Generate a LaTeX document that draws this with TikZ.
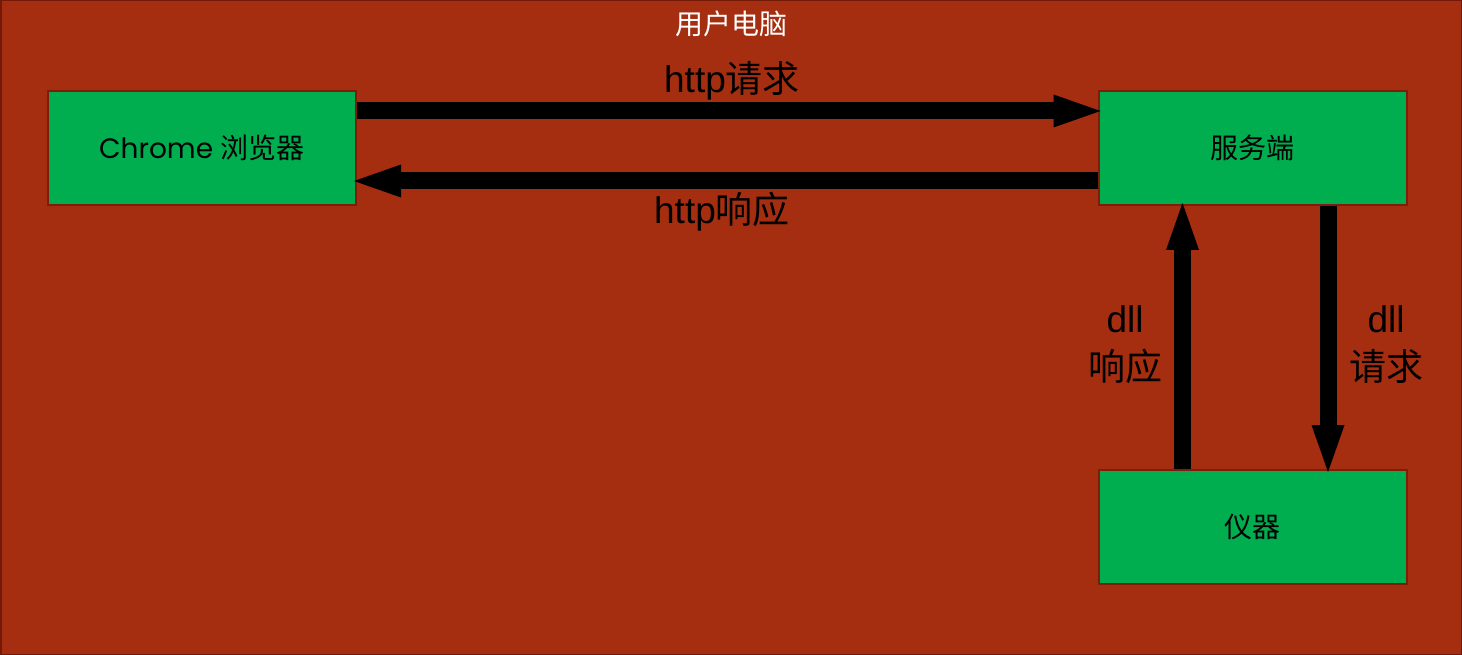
\documentclass[tikz,border=0pt]{standalone}
\usepackage{fontspec}
\setmainfont{Liberation Sans}
\newfontfamily\cjk{Noto Sans CJK SC}
\newfontfamily\geo{Poppins}
\usetikzlibrary{arrows.meta}
\definecolor{bg}{RGB}{165,46,16}
\definecolor{bgedge}{RGB}{115,25,8}
\definecolor{boxgreen}{RGB}{0,174,80}
\definecolor{boxedge}{RGB}{125,30,10}
\begin{document}
\begin{tikzpicture}[x=1pt,y=-1pt,
  box/.style={draw=boxedge, line width=2pt, fill=boxgreen, minimum width=308pt, minimum height=114pt, inner sep=0pt, font=\fontsize{28}{32}\selectfont},
  bigarrow/.style={line width=17pt, shorten >=-3pt, -{Triangle[length=47pt,width=33pt,line width=0pt]}},
  lbl/.style={font=\fontsize{37}{48}\selectfont, align=center, inner sep=0pt}]
\useasboundingbox (0,0) rectangle (1462,655);
\path[fill=bg, draw=bgedge, line width=1.5pt] (0.75,0.75) rectangle (1461.25,654.25);
\node[text=white, font=\fontsize{28}{32}\selectfont, inner sep=0pt] (title) at (731,24) {\cjk 用户电脑};
\node[box] (chrome) at (202,148) {{\geo Chrome} {\cjk 浏览器}};
\node[box] (server) at (1252.5,148) {\cjk 服务端};
\node[box] (device) at (1252.5,527) {\cjk 仪器};
\draw[bigarrow] ([yshift=37pt]chrome.east) -- ([yshift=37pt]server.west);
\draw[bigarrow] ([yshift=-33pt]server.west) -- ([yshift=-33pt]chrome.east);
\draw[bigarrow] ([xshift=-70pt]device.north) -- ([xshift=-70pt]server.south);
\draw[bigarrow] ([xshift=75.5pt]server.south) -- ([xshift=75.5pt]device.north);
\node[lbl] (reqlbl) at (732,81) {http{\cjk 请求}};
\node[lbl] (resplbl) at (722,212) {http{\cjk 响应}};
\node[lbl] (dllresp) at (1125,345) {dll\\{\cjk 响应}};
\node[lbl] (dllreq) at (1386,345) {dll\\{\cjk 请求}};
\end{tikzpicture}
\end{document}
